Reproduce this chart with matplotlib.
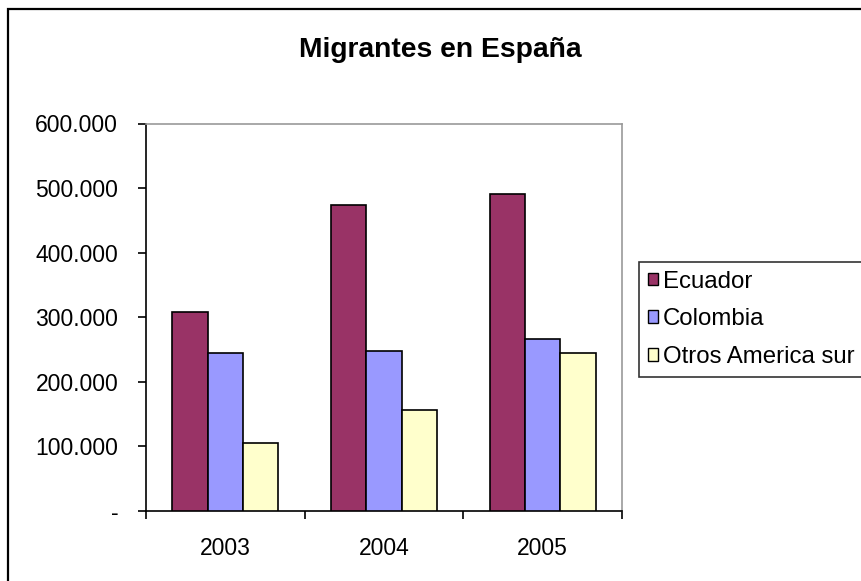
import numpy as np
import matplotlib
matplotlib.use("Agg")
import matplotlib.pyplot as plt
from matplotlib.patches import Rectangle

plt.rcParams['font.family'] = ['Liberation Sans', 'DejaVu Sans']

# data
years = ["2003", "2004", "2005"]
ecuador = [308000, 474000, 491000]
colombia = [245000, 248000, 267000]
otros = [105000, 156000, 245000]
series_names = ["Ecuador", "Colombia", "Otros America sur"]
series_colors = ["#993366", "#9999FF", "#FFFFCC"]
y_ticks = [0, 100000, 200000, 300000, 400000, 500000, 600000]


def fmt(v):
    if v == 0:
        return "-"
    return f"{v:,.0f}".replace(",", ".")


W, H = 861, 581
fig = plt.figure(figsize=(W / 100, H / 100), dpi=100)

# outer chart border (right and bottom run off the picture)
fig.patches.append(Rectangle((8 / W, -0.1), 1.2, (H - 9) / H + 0.1,
                             transform=fig.transFigure, fill=False,
                             edgecolor="black", linewidth=1.6))

ax = fig.add_axes([146 / W, (H - 511) / H, (622 - 146) / W, (511 - 123.5) / H])

x = np.arange(len(years))
width = 1 / 4.5
for i, (vals, name, col) in enumerate(zip([ecuador, colombia, otros], series_names, series_colors)):
    ax.bar(x + (i - 1) * width, vals, width, color=col, edgecolor="black",
           linewidth=1.2, label=name, zorder=3)

ax.set_xlim(-0.5, len(years) - 0.5)
ax.set_ylim(0, 600000)

ax.set_yticks(y_ticks)
ax.set_yticklabels([fmt(v) for v in y_ticks])
ax.tick_params(axis="y", length=6, width=1.2, pad=14, labelsize=16.5)

ax.set_xticks(x)
ax.set_xticklabels(years)
ax.tick_params(axis="x", which="major", length=0, pad=19, labelsize=16.5)
ax.set_xticks(np.arange(-0.5, len(years), 1.0), minor=True)
ax.tick_params(axis="x", which="minor", length=6, width=1.2)

for s in ["left", "bottom"]:
    ax.spines[s].set_color("black")
    ax.spines[s].set_linewidth(1.2)
for s in ["top", "right"]:
    ax.spines[s].set_color("#999999")
    ax.spines[s].set_linewidth(1.2)

fig.text(440 / W, 1 - 56.7 / H, "Migrantes en España", ha="center", va="baseline",
         fontsize=20.3, fontweight="bold")

leg = fig.legend(loc="upper left", bbox_to_anchor=(639 / W, 1 - 262 / H),
                 fontsize=17.3, frameon=True, fancybox=False, edgecolor="black",
                 handlelength=0.42, handleheight=0.42, handletextpad=0.22,
                 labelspacing=0.65, borderpad=0.36, borderaxespad=0)
leg.get_frame().set_linewidth(1.2)
for h in leg.legend_handles:
    h.set_linewidth(1.0)

fig.savefig("out.png", dpi=100)
